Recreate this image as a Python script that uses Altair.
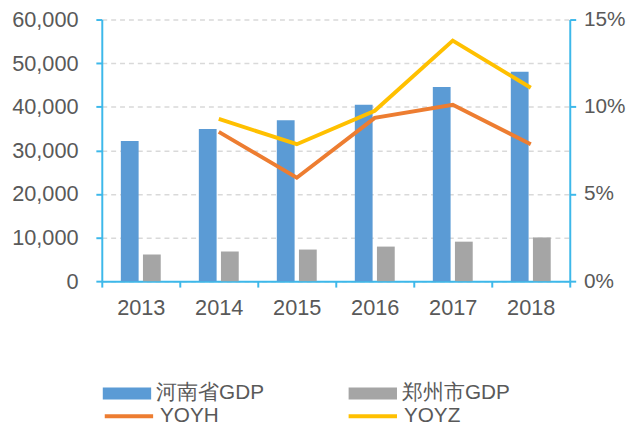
import altair as alt
import pandas as pd

years = ["2013", "2014", "2015", "2016", "2017", "2018"]
henan_gdp = [32150, 34870, 36900, 40460, 44540, 48000]
zhengzhou_gdp = [6110, 6790, 7250, 7930, 9060, 10030]
yoy_h = [None, 0.0856, 0.0593, 0.0936, 0.1011, 0.0785]
yoy_z = [None, 0.0930, 0.0785, 0.0977, 0.1379, 0.1109]

bar_series = ["河南省GDP", "郑州市GDP"]
line_series = ["YOYH", "YOYZ"]
bar_colors = ["#5B9BD5", "#A5A5A5"]
line_colors = ["#ED7D31", "#FFC000"]

AXIS = "#3DB8EA"
TEXT = "#595959"
FONT = "Liberation Sans"

bars = pd.DataFrame(
    [{"year": y, "series": bar_series[0], "value": v} for y, v in zip(years, henan_gdp)]
    + [{"year": y, "series": bar_series[1], "value": v} for y, v in zip(years, zhengzhou_gdp)]
)
lines = pd.DataFrame(
    [{"year": y, "series": line_series[0], "value": v} for y, v in zip(years, yoy_h) if v is not None]
    + [{"year": y, "series": line_series[1], "value": v} for y, v in zip(years, yoy_z) if v is not None]
)

x_enc = alt.X(
    "year:N",
    sort=years,
    scale=alt.Scale(paddingInner=0, paddingOuter=0),
    axis=alt.Axis(
        title=None, labelAngle=0, tickBand="extent", domainColor=AXIS, tickColor=AXIS,
        tickSize=6, domainWidth=2, tickWidth=2, labelFontSize=22, labelColor=TEXT,
        labelFont=FONT, labelPadding=11, grid=False,
    ),
)

bar_layer = alt.Chart(bars).mark_bar().encode(
    x=x_enc,
    xOffset=alt.XOffset("series:N", sort=bar_series,
                        scale=alt.Scale(paddingInner=0.196, paddingOuter=0.861)),
    y=alt.Y(
        "value:Q",
        scale=alt.Scale(domain=[0, 60000], nice=False),
        axis=alt.Axis(
            title=None, values=[0, 10000, 20000, 30000, 40000, 50000, 60000], format=",.0f",
            grid=True, gridDash=[5, 4], gridColor="#D9D9D9", gridWidth=1.5,
            domainColor=AXIS, tickColor=AXIS, tickSize=6, domainWidth=2, tickWidth=2,
            labelFontSize=22, labelColor=TEXT, labelFont=FONT, labelPadding=18,
        ),
    ),
    fill=alt.Fill(
        "series:N",
        sort=bar_series,
        scale=alt.Scale(domain=bar_series, range=bar_colors),
        legend=alt.Legend(
            title=None, orient="none", legendX=1, legendY=354, direction="horizontal",
            columns=2, columnPadding=86, symbolType="M-1,-0.245H1V0.245H-1Z",
            symbolSize=2401, symbolStrokeWidth=0, labelOffset=5, labelFontSize=21,
            labelColor=TEXT, labelFont=FONT,
        ),
    ),
)

line_layer = alt.Chart(lines).mark_line(strokeWidth=4).encode(
    x=alt.X("year:N", sort=years),
    y=alt.Y(
        "value:Q",
        scale=alt.Scale(domain=[0, 0.15], nice=False),
        axis=alt.Axis(
            title=None, orient="right", values=[0, 0.05, 0.10, 0.15], format=".0%",
            grid=False, domainColor=AXIS, tickColor=AXIS, tickSize=6, domainWidth=2,
            tickWidth=2, labelFontSize=21, labelColor=TEXT, labelFont=FONT, labelPadding=8,
        ),
    ),
    stroke=alt.Stroke(
        "series:N",
        sort=line_series,
        scale=alt.Scale(domain=line_series, range=line_colors),
        legend=alt.Legend(
            title=None, orient="none", legendX=1, legendY=375, direction="horizontal",
            columns=2, columnPadding=123, symbolType="stroke", symbolSize=2401,
            symbolStrokeWidth=4, labelOffset=5, labelFontSize=21, labelColor=TEXT,
            labelFont=FONT,
        ),
    ),
    detail="series:N",
)

chart = (
    alt.layer(bar_layer, line_layer)
    .resolve_scale(y="independent")
    .properties(
        width=474, height=265,
        autosize=alt.AutoSizeParams(type="none"),
        padding={"left": 95, "top": 9, "right": 60, "bottom": 143},
    )
    .configure_view(stroke=None)
)

chart.save("out.html", embed_options={"renderer": "svg", "actions": False})
